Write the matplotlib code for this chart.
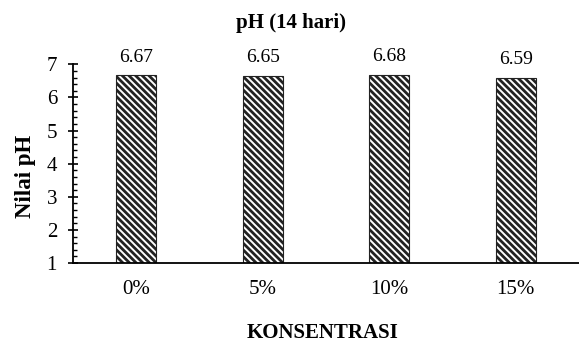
import matplotlib
matplotlib.use("Agg")
import matplotlib.pyplot as plt
from matplotlib.ticker import MultipleLocator

categories = ["0%", "5%", "10%", "15%"]
values = [6.67, 6.65, 6.68, 6.59]
value_labels = ["6.67", "6.65", "6.68", "6.59"]
yticks = [1, 2, 3, 4, 5, 6, 7]

plt.rcParams['font.family'] = ['Liberation Serif', 'DejaVu Serif']
plt.rcParams['hatch.linewidth'] = 2.0
plt.rcParams['hatch.color'] = 'black'

fig = plt.figure(figsize=(5.79, 3.45), dpi=100)
ax = fig.add_axes([73/579, 1-263/345, (579-73)/579, (263-64.3)/345])

x = range(len(categories))
bars = ax.bar(x, values, width=0.316, bottom=0, color='white', edgecolor='#222222',
              linewidth=0.8, hatch='\\\\\\\\\\')
ax.set_ylim(1, 7)
ax.set_xlim(-0.5, 3.5)
ax.set_yticks(yticks)
ax.set_yticklabels([str(t) for t in yticks])
ax.yaxis.set_minor_locator(MultipleLocator(0.2))
ax.set_xticks(list(x))
ax.set_xticklabels(categories)

for s in ['top', 'right']:
    ax.spines[s].set_visible(False)
for s in ['left', 'bottom']:
    ax.spines[s].set_linewidth(1.3)
    ax.spines[s].set_color('black')

ax.tick_params(axis='y', which='major', direction='inout', length=7, width=1.2, pad=8, labelsize=15)
ax.tick_params(axis='y', which='minor', direction='in', length=3, width=1.0)
ax.tick_params(axis='x', which='major', length=0, pad=12, labelsize=15)

for xi, v, lab in zip(x, values, value_labels):
    ax.annotate(lab, (xi, v), xytext=(0, 13), textcoords='offset points',
                ha='center', va='center', fontsize=14)

fig.text(291/579, 1-28/345, "pH (14 hari)", ha='center', va='baseline',
         fontsize=15, fontweight='bold')
fig.text(323/579, 1-338/345, "KONSENTRASI", ha='center', va='baseline',
         fontsize=15, fontweight='bold')
fig.text(25/579, 1-176/345, "Nilai pH", ha='center', va='center', rotation=90,
         fontsize=16.5, fontweight='bold')

fig.savefig("out.png", dpi=100)
